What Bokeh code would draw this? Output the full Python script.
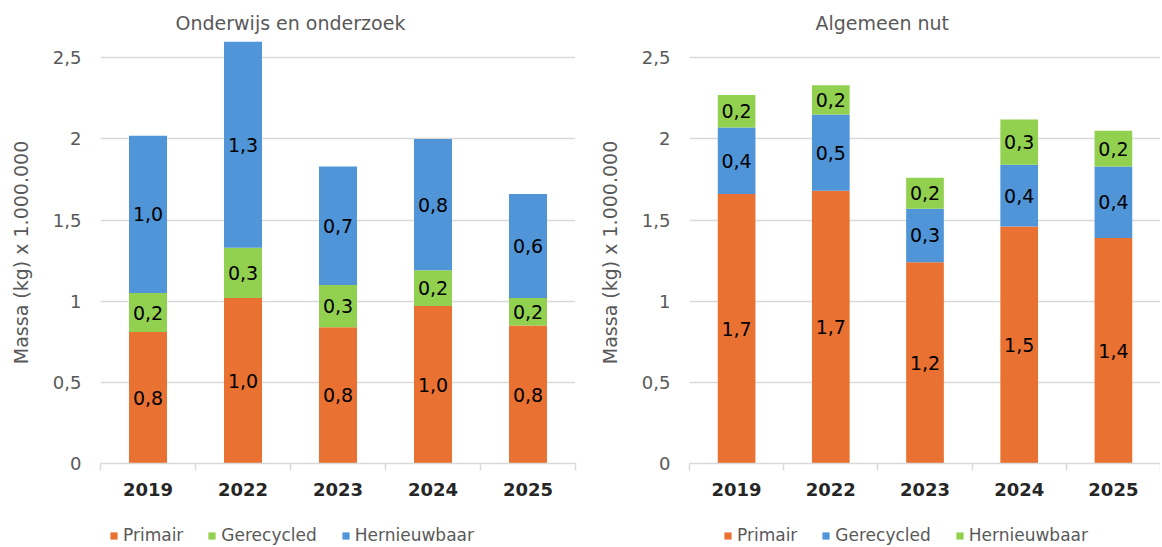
import numpy as np
from bokeh.plotting import figure
from bokeh.layouts import row, column
from bokeh.models import (ColumnDataSource, Range1d, FixedTicker, CustomJSTickFormatter,
                          Legend, LegendItem)
from bokeh.core.properties import value
from bokeh.embed import file_html
from bokeh.resources import INLINE

years = ["2019", "2022", "2023", "2024", "2025"]
series = ["Primair", "Gerecycled", "Hernieuwbaar"]

# Onderwijs en onderzoek
oo_primair = [0.81, 1.02, 0.84, 0.97, 0.85]
oo_gerecycled = [0.24, 0.31, 0.26, 0.22, 0.17]
oo_hernieuwbaar = [0.97, 1.27, 0.73, 0.81, 0.64]

# Algemeen nut
an_primair = [1.66, 1.68, 1.24, 1.46, 1.39]
an_gerecycled = [0.41, 0.47, 0.33, 0.38, 0.44]
an_hernieuwbaar = [0.20, 0.18, 0.19, 0.28, 0.22]

y_ticks = [0, 0.5, 1, 1.5, 2, 2.5]

ORANGE = "#E97132"
GREEN = "#92D050"
BLUE = "#4F95D8"
GRAY = "#595959"
FONT = "DejaVu Sans"


def make_chart(title, vals, colors, border_left, border_right, title_offset):
    x = np.arange(len(years)) + 0.5
    data = {"x": x}
    for name, v in zip(series, vals):
        data[name] = v
    src = ColumnDataSource(data)

    p = figure(width=580, height=504, output_backend="svg", toolbar_location=None,
               x_range=Range1d(0, len(years)), y_range=Range1d(0, 2.6),
               min_border_left=border_left, min_border_right=border_right,
               min_border_top=41, min_border_bottom=41)
    p.outline_line_color = None
    p.background_fill_color = "white"

    p.title.text = title
    p.title.align = "left"
    p.title.offset = title_offset
    p.title.standoff = 15
    p.title.text_font = FONT
    p.title.text_font_size = "19px"
    p.title.text_font_style = "normal"
    p.title.text_color = GRAY

    p.vbar_stack(series, x="x", width=0.4, color=colors, source=src, line_width=0)

    # data labels
    bottoms = np.zeros(len(years))
    for v in vals:
        arr = np.array(v)
        lbl = [f"{t:.1f}".replace(".", ",") for t in arr]
        p.text(x=x, y=bottoms + arr / 2, text=lbl, text_align="center",
               text_baseline="middle", text_font=value(FONT), text_font_size="19px",
               text_color="black")
        bottoms = bottoms + arr

    # axes
    p.xgrid.visible = False
    p.ygrid.grid_line_color = "#d9d9d9"
    p.ygrid.grid_line_width = 1.5
    p.yaxis.ticker = FixedTicker(ticks=y_ticks)
    p.yaxis.formatter = CustomJSTickFormatter(code="return tick.toString().replace('.', ',');")
    p.yaxis.axis_line_color = None
    p.yaxis.major_tick_line_color = None
    p.yaxis.minor_tick_line_color = None
    p.yaxis.major_tick_out = 0
    p.yaxis.major_label_standoff = 19
    p.yaxis.major_label_text_font = FONT
    p.yaxis.major_label_text_font_size = "18px"
    p.yaxis.major_label_text_color = GRAY
    p.yaxis.axis_label = "Massa (kg) x 1.000.000"
    p.yaxis.axis_label_text_font = FONT
    p.yaxis.axis_label_text_font_size = "19px"
    p.yaxis.axis_label_text_font_style = "normal"
    p.yaxis.axis_label_text_color = GRAY
    p.yaxis.axis_label_standoff = 18

    p.xaxis.ticker = FixedTicker(ticks=list(x), minor_ticks=list(range(len(years) + 1)))
    p.xaxis.formatter = CustomJSTickFormatter(args=dict(labels=years),
                                              code="return labels[Math.floor(tick)];")
    p.xaxis.axis_line_color = "#d9d9d9"
    p.xaxis.axis_line_width = 1.5
    p.xaxis.major_tick_line_color = None
    p.xaxis.minor_tick_line_color = "#d9d9d9"
    p.xaxis.minor_tick_line_width = 1.5
    p.xaxis.minor_tick_out = 7
    p.xaxis.minor_tick_in = 0
    p.xaxis.major_label_standoff = 12
    p.xaxis.major_label_text_font = FONT
    p.xaxis.major_label_text_font_size = "18px"
    p.xaxis.major_label_text_font_style = "bold"
    p.xaxis.major_label_text_color = "#262626"
    return p


def make_legend(vals, colors, legend_x):
    # legend-only strip: the series renderers lie outside its visible range
    x = np.arange(len(years)) + 0.5
    q = figure(width=580, height=43, output_backend="svg", toolbar_location=None,
               x_range=Range1d(0, len(years)), y_range=Range1d(100, 101),
               x_axis_type=None, y_axis_type=None,
               min_border=0, min_border_left=0, min_border_right=0,
               min_border_top=0, min_border_bottom=0)
    q.outline_line_color = None
    rs = []
    for v, c in zip(vals, colors):
        rs.append(q.vbar(x=x, top=v, width=0.4, color=c, line_width=0))
    items = [LegendItem(label=name, renderers=[r]) for name, r in zip(series, rs)]
    legend = Legend(items=items, orientation="horizontal", location=(legend_x, 2),
                    glyph_width=9, glyph_height=9, label_standoff=5, spacing=24,
                    padding=0, margin=0, border_line_color=None,
                    label_text_font=FONT, label_text_font_size="17px",
                    label_text_color=GRAY, background_fill_alpha=0)
    q.add_layout(legend, "center")
    return q


oo_vals = [oo_primair, oo_gerecycled, oo_hernieuwbaar]
an_vals = [an_primair, an_gerecycled, an_hernieuwbaar]

left = make_chart("Onderwijs en onderzoek", oo_vals, [ORANGE, GREEN, BLUE], 100, 5, 75)
right = make_chart("Algemeen nut", an_vals, [ORANGE, BLUE, GREEN], 109, 0, 126)
left_legend = make_legend(oo_vals, [ORANGE, GREEN, BLUE], 109)
right_legend = make_legend(an_vals, [ORANGE, BLUE, GREEN], 143)

layout = column(row(left, right), row(left_legend, right_legend))
open("out.html", "w").write(file_html(layout, INLINE))
